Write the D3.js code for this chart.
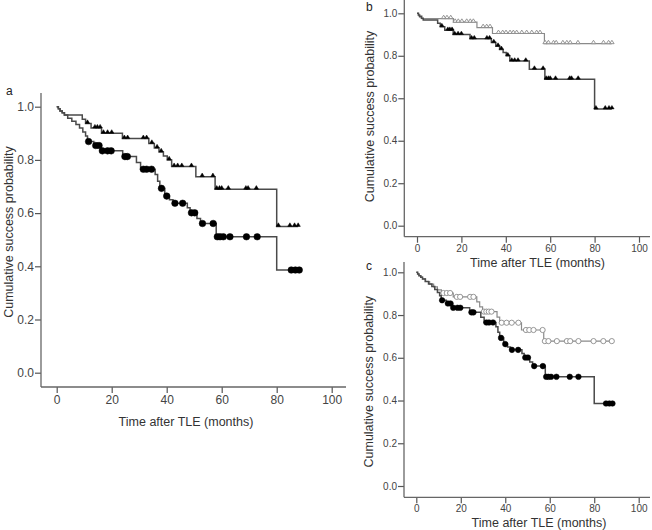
<!DOCTYPE html>
<html><head><meta charset="utf-8">
<script src="https://cdn.jsdelivr.net/npm/d3@7"></script>
<style>body{margin:0;background:#fff}svg{display:block}text{font-family:"Liberation Sans",Arial,sans-serif}</style>
</head><body><svg id="c" width="652" height="530"></svg>
<script>
// ---- data ----
const xTicks = [0, 20, 40, 60, 80, 100];
const yTicks = [0, 0.2, 0.4, 0.6, 0.8, 1.0];
const xLabel = "Time after TLE (months)";
const yLabel = "Cumulative  success  probability";
const panelLabels = ["a", "b", "c"];

// filled triangles (group 1)
const triSteps = [[0.6,0.992],[1.2,0.984],[2.0,0.977],[2.8,0.969],[9.3,0.953],[10.5,0.937],[12.5,0.92],[16.3,0.90],[23.9,0.88],[33.5,0.862],[35.5,0.845],[37.2,0.83],[38.8,0.815],[40.2,0.80],[41.8,0.775],[50.6,0.737],[57.6,0.69],[80.0,0.55]];
const triCensor = [11.2,13.9,14.8,15.8,17.0,18.5,20.0,24.6,25.8,31.5,32.7,34.6,36.5,38.0,40.9,42.7,44.0,45.5,49.0,52.9,56.8,58.2,59.2,60.0,62.4,68.8,69.6,72.6,80.6,84.8,86.5,87.8];

// filled circles (group 2)
const circSteps = [[0.6,0.992],[1.2,0.984],[2.0,0.977],[2.8,0.969],[4.0,0.957],[5.5,0.945],[7.0,0.933],[8.3,0.92],[9.5,0.905],[10.5,0.89],[11.2,0.869],[13.5,0.854],[16.2,0.834],[24.0,0.8125],[29.0,0.79],[30.5,0.765],[35.8,0.745],[36.7,0.72],[37.5,0.693],[39.3,0.664],[41.0,0.65],[42.3,0.637],[47.5,0.62],[48.5,0.601],[51.0,0.58],[52.3,0.561],[58.0,0.511],[80.0,0.386]];
const circCensor = [11.6,14.2,15.4,16.6,18.5,19.8,24.8,25.7,31.5,32.7,34.5,38.1,40.0,43.0,45.8,49.0,50.2,53.0,56.9,58.4,59.4,60.6,63.0,69.0,72.9,85.3,86.8,88.2];

// open triangles (panel b comparison group)
const openTriSteps = [[0.8,0.988],[2.2,0.975],[16.4,0.958],[27.0,0.933],[34.0,0.905],[57.4,0.857]];
const openTriCensor = [12.0,13.5,15.2,17.2,18.6,20.2,22.4,24.0,25.4,29.8,31.4,32.9,36.7,38.6,40.1,41.9,43.4,44.9,47.2,49.4,51.7,53.9,55.4,57.7,59.2,61.5,62.7,65.7,67.5,69.0,72.5,79.5,84.0,86.3,87.8];

// open circles (panel c comparison group)
const openCircSteps = [[0.6,0.992],[1.2,0.984],[2.0,0.977],[2.8,0.969],[4.2,0.957],[6.0,0.945],[7.8,0.932],[9.5,0.918],[11.3,0.903],[16.6,0.885],[27.2,0.862],[28.5,0.838],[29.8,0.816],[36.3,0.79],[37.5,0.764],[47.3,0.73],[57.3,0.678]];
const openCircCensor = [12.2,13.7,15.2,18.2,19.7,24.2,25.7,30.4,31.5,32.6,33.8,38.4,40.6,42.9,45.9,49.3,50.8,52.7,56.8,57.8,59.4,63.2,67.7,69.2,72.9,79.7,84.1,87.9];

// ---- drawing ----
const svg = d3.select("#c");
const TXT = "#444";

const panels = [
  {label: panelLabels[0], lab:[6,95], xr:[56.7,331.7], yr:[372.7,106.7], ax:[41,346], ay:[93,387], tickFs:12, labFs:12.5,
   xlab:[186,426], ylab:[13,232], cr:3.3, tw:2.2, th:3.6,
   series:[{steps:triSteps,cens:triCensor,sym:"tri",open:false},{steps:circSteps,cens:circCensor,sym:"circ",open:false}]},
  {label: panelLabels[1], lab:[366,11], xr:[417,639], yr:[225.7,13.3], ax:[404.3,650], ay:[0,236.7], tickFs:10, labFs:12.5,
   xlab:[537.5,267], ylab:[374,116.5], cr:2.8, tw:2.2, th:3.4,
   series:[{steps:openTriSteps,cens:openTriCensor,sym:"tri",open:true},{steps:triSteps,cens:triCensor,sym:"tri",open:false}]},
  {label: panelLabels[2], lab:[366,270], xr:[416.3,638.7], yr:[486,272.3], ax:[404,650], ay:[262,497.3], tickFs:10, labFs:12.5,
   xlab:[539,527], ylab:[373,381.7], cr:2.8, tw:2.2, th:3.4,
   series:[{steps:openCircSteps,cens:openCircCensor,sym:"circ",open:true},{steps:circSteps,cens:circCensor,sym:"circ",open:false}]}
];

function valueAt(steps, t){
  let v = 1;
  for (const [st, s] of steps) if (st <= t) v = s;
  return v;
}

panels.forEach(p => {
  const x = d3.scaleLinear().domain([0,100]).range(p.xr);
  const y = d3.scaleLinear().domain([0,1]).range(p.yr);
  const g = svg.append("g");

  const xa = g.append("g").attr("transform", `translate(0,${p.ay[1]})`)
    .call(d3.axisBottom(x).tickValues(xTicks).tickSize(6).tickSizeOuter(0).tickPadding(2).tickFormat(d3.format("d")));
  xa.select(".domain").remove();
  xa.selectAll("line").attr("stroke", "#555").attr("stroke-width", 1.2);
  xa.selectAll("text").attr("fill", TXT).style("font-size", p.tickFs + "px").style("font-family", "Liberation Sans, Arial, sans-serif");
  const ya = g.append("g").attr("transform", `translate(${p.ax[0]},0)`)
    .call(d3.axisLeft(y).tickValues(yTicks).tickSize(6).tickSizeOuter(0).tickPadding(1).tickFormat(d3.format(".1f")));
  ya.select(".domain").remove();
  ya.selectAll("line").attr("stroke", "#555").attr("stroke-width", 1.2);
  ya.selectAll("text").attr("fill", TXT).style("font-size", p.tickFs + "px").style("font-family", "Liberation Sans, Arial, sans-serif");

  g.append("line").attr("x1", p.ax[0]).attr("x2", p.ax[1]).attr("y1", p.ay[1]).attr("y2", p.ay[1]).attr("stroke", "#666").attr("stroke-width", 1.3);
  g.append("line").attr("x1", p.ax[0]).attr("x2", p.ax[0]).attr("y1", p.ay[0]).attr("y2", p.ay[1]).attr("stroke", "#666").attr("stroke-width", 1.3);

  g.append("text").attr("x", p.xlab[0]).attr("y", p.xlab[1]).attr("text-anchor", "middle")
    .attr("fill", "#333").style("font-size", p.labFs + "px").text(xLabel);
  g.append("text").attr("transform", `translate(${p.ylab[0]},${p.ylab[1]}) rotate(-90)`).attr("text-anchor", "middle")
    .attr("fill", "#333").style("font-size", p.labFs + "px").text(yLabel);
  g.append("text").attr("x", p.lab[0]).attr("y", p.lab[1]).attr("fill", "#222").style("font-size", "12px").text(p.label);

  p.series.forEach(s => {
    const tEnd = d3.max(s.cens);
    const pts = [[0,1], ...s.steps, [tEnd, s.steps[s.steps.length-1][1]]];
    const line = d3.line().x(d => x(d[0])).y(d => y(d[1])).curve(d3.curveStepAfter);
    g.append("path").attr("d", line(pts)).attr("fill", "none")
      .attr("stroke", s.open ? "#8a8a8a" : "#4a4a4a").attr("stroke-width", s.open ? 1.2 : 1.5);
    const m = g.append("g");
    s.cens.forEach(t => {
      const cx = x(t), cy = y(valueAt(s.steps, t));
      if (s.sym === "circ") {
        m.append("circle").attr("cx", cx).attr("cy", cy).attr("r", s.open ? p.cr - 0.2 : p.cr)
          .attr("fill", s.open ? "#fff" : "#000").attr("stroke", s.open ? "#8a8a8a" : "#000").attr("stroke-width", s.open ? 0.9 : 0.5);
      } else {
        const w = p.tw, h = p.th;
        m.append("path").attr("d", `M${cx-w},${cy}L${cx+w},${cy}L${cx},${cy-h}Z`)
          .attr("fill", s.open ? "#fff" : "#000").attr("stroke", s.open ? "#8a8a8a" : "#000").attr("stroke-width", s.open ? 0.9 : 0.5);
      }
    });
  });
});
</script></body></html>
